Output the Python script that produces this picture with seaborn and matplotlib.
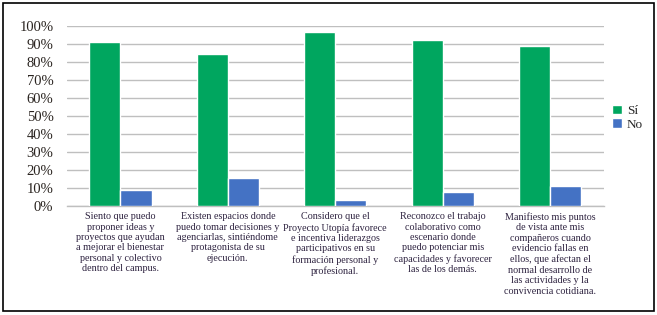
import pandas as pd
import matplotlib.pyplot as plt
import seaborn as sns
from matplotlib.patches import Rectangle
from matplotlib.ticker import FixedLocator

categories = [
    "Siento que puedo\nproponer ideas y\nproyectos que ayudan\na mejorar el bienestar\npersonal y colectivo\ndentro del campus.",
    "Existen espacios donde\npuedo tomar decisiones y\nagenciarlas, sintiéndome\nprotagonista de su\nejecución.",
    "Considero que el\nProyecto Utopía favorece\ne incentiva liderazgos\nparticipativos en su\nformación personal y\nprofesional.",
    "Reconozco el trabajo\ncolaborativo como\nescenario donde\npuedo potenciar mis\ncapacidades y favorecer\nlas de los demás.",
    "Manifiesto mis puntos\nde vista ante mis\ncompañeros cuando\nevidencio fallas en\nellos, que afectan el\nnormal desarrollo de\nlas actividades y la\nconvivencia cotidiana.",
]
si = [91.1, 84.4, 96.7, 92.2, 88.9]
no = [8.9, 15.6, 3.3, 7.8, 11.1]
series = ["Sí", "No"]
yticks = [0, 10, 20, 30, 40, 50, 60, 70, 80, 90, 100]

df = pd.DataFrame({
    "cat": categories * 2,
    "serie": [series[0]] * 5 + [series[1]] * 5,
    "valor": si + no,
})

sns.set_style("white")
plt.rcParams["font.family"] = ["Liberation Serif", "DejaVu Serif"]

fig = plt.figure(figsize=(6.57, 3.15), dpi=100)
ax = fig.add_axes([0.1015, 0.346, 0.8175, 0.5715])

sns.barplot(data=df, x="cat", y="valor", hue="serie", order=categories,
            hue_order=series, palette=["#00A65F", "#4472C4"], width=0.58,
            saturation=1, ax=ax, zorder=3)

ax.set_ylim(0, 100)
ax.set_xlim(-0.5, 4.5)
ax.set_yticks(yticks)
ax.set_yticklabels([f"{t}%" for t in yticks], fontsize=10.5, color="#2a2420")
ax.yaxis.grid(True, color="#BFBFBF", linewidth=1, zorder=0)
ax.set_xlabel("")
ax.set_ylabel("")
for s in ["left", "right", "top"]:
    ax.spines[s].set_visible(False)
ax.spines["bottom"].set_color("#BFBFBF")
ax.spines["bottom"].set_linewidth(1)
ax.tick_params(axis="y", length=0, pad=9.5)
ax.tick_params(axis="x", which="major", length=0, pad=4.5)
ax.xaxis.set_minor_locator(FixedLocator([-0.5, 0.5, 1.5, 2.5, 3.5, 4.5]))
ax.tick_params(axis="x", which="minor", length=4, color="#BFBFBF", width=1)
ax.set_xticks(range(5))
ax.set_xticklabels(categories, fontsize=7.3, color="#2e2340", linespacing=1.2,
                   va="top")

leg = ax.legend(loc="center left", bbox_to_anchor=(1.0, 0.49), frameon=False,
                fontsize=9.5, handlelength=0.75, handleheight=0.75,
                handletextpad=0.4, labelspacing=0.1, borderpad=0,
                borderaxespad=0.6)

fig.patches.append(Rectangle((0.004, 0.012), 0.992, 0.98, transform=fig.transFigure,
                             fill=False, edgecolor="black", linewidth=1.2))

fig.savefig("out.png", dpi=100)
